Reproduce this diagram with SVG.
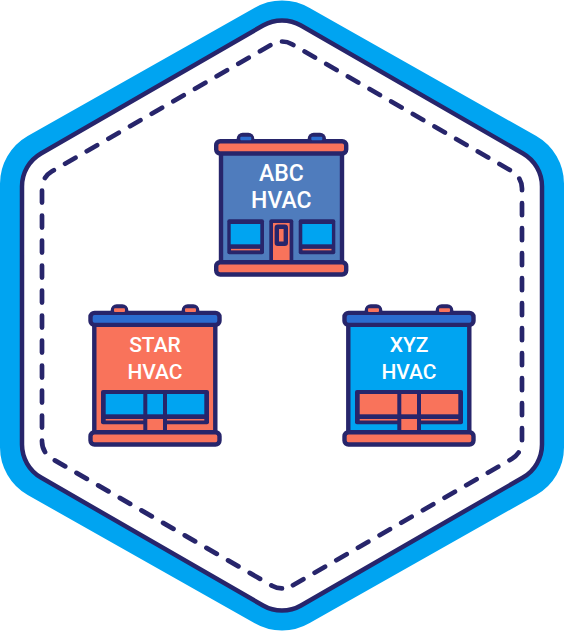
<svg xmlns="http://www.w3.org/2000/svg" width="564" height="631" viewBox="0 0 564 631">
<style>
.d{stroke:#27256b;stroke-width:4.4;stroke-linejoin:round}
.k{fill:#27256b}
.o{fill:#f9735b}.b{fill:#00a4f1}.r{fill:#2b6cd0}.m{fill:#4f7cbd}
.t{font-family:Roboto,"Liberation Sans",Arial,sans-serif;font-size:23px;font-weight:500;fill:#fff;text-anchor:middle}
.s{font-size:21px}
.l{fill:none;stroke:#f9735b;stroke-width:1.5}
.h{fill:none;stroke:#27256b;stroke-width:4.7;stroke-linecap:round;stroke-dasharray:12 13}
</style>
<rect width="564" height="631" fill="#fff"/>
<g id="badge">
<path d="M254.3 8A55 55 0 0 1 309.7 8L536.3 136A55 55 0 0 1 564 184V447A55 55 0 0 1 536.3 495L309.7 623A55 55 0 0 1 254.3 623L27.7 495A55 55 0 0 1 0 447V184A55 55 0 0 1 27.7 136Z" fill="#00a4f1"/>
<path d="M263 25.5A38 38 0 0 1 301 25.5L523 153.5A38 38 0 0 1 542 186.5V444.5A38 38 0 0 1 523 477.5L301 605.5A38 38 0 0 1 263 605.5L41 477.5A38 38 0 0 1 22 444.5V186.5A38 38 0 0 1 41 153.5Z" fill="#fff" stroke="#27256b" stroke-width="4.5"/>
<path class="h" d="M282 41.5A20 20 0 0 1 292 44.25L512 171.25A20 20 0 0 1 522 188.5V441.5A20 20 0 0 1 512 458.75L292 585.75A20 20 0 0 1 282 588.4"/>
<path class="h" stroke-dashoffset="0.8" d="M282 588.4A20 20 0 0 1 272 585.75L52 458.75A20 20 0 0 1 42 441.5V188.5A20 20 0 0 1 52 171.25L272 44.25A20 20 0 0 1 282 41.5"/>
</g>
<g id="abc-hvac">
<rect class="k" x="236.7" y="132.7" width="17.6" height="12" rx="6"/>
<rect class="k" x="307.7" y="132.7" width="18.3" height="12" rx="6"/>
<rect class="d m" x="221" y="150" width="121" height="115"/>
<rect class="d o" x="216.2" y="141.2" width="130" height="12.3" rx="4"/>
<rect class="r" x="240.3" y="136.7" width="11" height="3.6" rx="1"/>
<rect class="r" x="311.3" y="136.7" width="11" height="3.6" rx="1"/>
<rect class="k" x="227.3" y="219.3" width="36.7" height="35" rx="2"/>
<rect class="b" x="230.7" y="224" width="29.6" height="20.3"/>
<path class="l" d="M231 249.6H260"/>
<rect class="k" x="298.7" y="219.3" width="36.6" height="35" rx="2"/>
<rect class="b" x="302.3" y="224" width="29.6" height="20.3"/>
<path class="l" d="M302.5 249.6H331.5"/>
<rect class="k" x="269.3" y="219.3" width="24" height="42" rx="2"/>
<rect class="o" x="273" y="223" width="16.6" height="38"/>
<rect class="d o" x="276.8" y="226.8" width="9" height="17" rx="1"/>
<rect class="d o" x="216.2" y="262.2" width="130" height="12.3" rx="4"/>
<text class="t" x="281.3" y="181">ABC</text>
<text class="t" x="281.3" y="208">HVAC</text>
</g>
<g id="star-hvac">
<rect class="k" x="110.7" y="304.3" width="17.6" height="12" rx="6"/>
<rect class="k" x="181.7" y="304.3" width="17.6" height="12" rx="6"/>
<rect class="d o" x="94.3" y="322" width="121" height="112"/>
<rect class="d r" x="90.5" y="312.9" width="129" height="12" rx="4"/>
<rect class="o" x="114" y="308.3" width="11" height="3.6" rx="1"/>
<rect class="o" x="185" y="308.3" width="11" height="3.6" rx="1"/>
<rect class="k" x="101" y="390" width="108" height="34.3" rx="2"/>
<rect class="b" x="105.7" y="394" width="98.6" height="20.3"/>
<path class="l" d="M105.7 419.7H204.3"/>
<rect class="k" x="143.3" y="390" width="23.7" height="41"/>
<rect class="b" x="147.3" y="394" width="15.7" height="20.3"/>
<rect class="o" x="147.3" y="419" width="15.7" height="11"/>
<rect class="d o" x="90.5" y="432.2" width="129" height="12.3" rx="4"/>
<text class="t s" x="155" y="351.7">STAR</text>
<text class="t s" x="155" y="378.5">HVAC</text>
</g>
<g id="xyz-hvac">
<rect class="k" x="364.7" y="304.3" width="17.6" height="12" rx="6"/>
<rect class="k" x="435.7" y="304.3" width="17.6" height="12" rx="6"/>
<rect class="d b" x="348.3" y="322" width="121" height="112"/>
<rect class="d r" x="344.5" y="312.9" width="129" height="12" rx="4"/>
<rect class="o" x="368" y="308.3" width="11" height="3.6" rx="1"/>
<rect class="o" x="439" y="308.3" width="11" height="3.6" rx="1"/>
<rect class="k" x="355" y="390" width="108" height="34.3" rx="2"/>
<rect class="o" x="359.7" y="394" width="98.6" height="20.3"/>
<path class="l" d="M359.7 419.7H458.3"/>
<rect class="k" x="397.3" y="390" width="23.7" height="41"/>
<rect class="o" x="401.3" y="394" width="15.7" height="20.3"/>
<rect class="o" x="401.3" y="419" width="15.7" height="11"/>
<rect class="d o" x="344.5" y="432.2" width="129" height="12.3" rx="4"/>
<text class="t s" x="409" y="351.7">XYZ</text>
<text class="t s" x="409" y="378.5">HVAC</text>
</g>
<g id="connectors"></g>
</svg>
